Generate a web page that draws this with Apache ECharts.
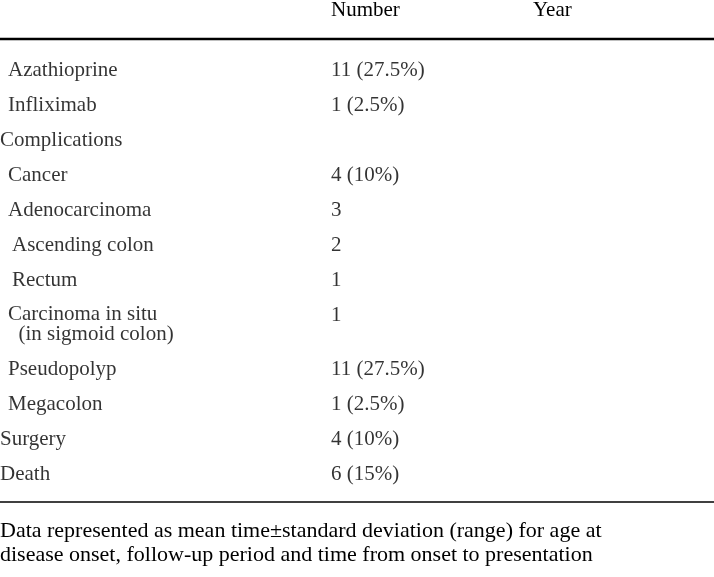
<!DOCTYPE html>
<html><head><meta charset="utf-8">
<script src="https://cdn.jsdelivr.net/npm/echarts@6/dist/echarts.min.js"></script>
<style>html,body{margin:0;padding:0;background:#fff}#main{width:714px;height:577px}</style>
</head><body><div id="main"></div>
<script>
// table content
const headers = ['Number', 'Year'];
const labels = ['Azathioprine', 'Infliximab', 'Complications', 'Cancer', 'Adenocarcinoma',
    'Ascending colon', 'Rectum', 'Carcinoma in situ\n  (in sigmoid colon)', 'Pseudopolyp',
    'Megacolon', 'Surgery', 'Death'];
const indents = [1, 1, 0, 1, 1, 2, 2, 1, 1, 1, 0, 0];
const numbers = ['11 (27.5%)', '1 (2.5%)', '', '4 (10%)', '3', '2', '1', '1',
    '11 (27.5%)', '1 (2.5%)', '4 (10%)', '6 (15%)'];
const rows = [0, 1, 2, 3, 4, 5, 6, 7.27, 8.57, 9.57, 10.57, 11.57];
const numRows = [0, 1, 2, 3, 4, 5, 6, 7, 8.57, 9.57, 10.57, 11.57];
const footnote = ['Data represented as mean time\u00b1standard deviation (range) for age at',
    'disease onset, follow-up period and time from onset to presentation'];

const font = '"Liberation Serif", "DejaVu Serif", serif';
const indentPx = [0, 8, 12];
const numX = 331;

let myChart = echarts.init(document.getElementById('main'));
let labelData = labels.map((t, i) => ({value: [indentPx[indents[i]], rows[i]], name: t}));
let numData = numbers.map((t, i) => ({value: [numX, numRows[i]], name: t}));
let txt = {show: true, position: 'right', distance: 0, color: '#000', fontFamily: font,
    fontSize: 21, lineHeight: 20, formatter: p => p.name};

let option = {
    animation: false,
    grid: {left: 0, right: 0, top: 0, bottom: 0},
    xAxis: {type: 'value', min: 0, max: 714, show: false},
    yAxis: {type: 'value', min: -2, max: 577 / 35 - 2, inverse: true, show: false},
    series: [
        {type: 'scatter', symbolSize: 0, data: labelData, label: txt},
        {type: 'scatter', symbolSize: 0, data: numData, label: txt}
    ],
    graphic: [
        {type: 'text', left: 331, top: 0, style: {text: headers[0], font: '21px ' + font, fill: '#000'}},
        {type: 'text', left: 533, top: 0, style: {text: headers[1], font: '21px ' + font, fill: '#000'}},
        {type: 'line', shape: {x1: 0, y1: 39, x2: 714, y2: 39}, style: {stroke: '#000', lineWidth: 2.5}},
        {type: 'line', shape: {x1: 0, y1: 502, x2: 714, y2: 502}, style: {stroke: '#000', lineWidth: 1.5}},
        {type: 'text', left: 0, top: 520, style: {text: footnote[0], font: '22px ' + font, fill: '#000'}},
        {type: 'text', left: 0, top: 544, style: {text: footnote[1], font: '22px ' + font, fill: '#000'}}
    ]
};
myChart.setOption(option);
</script></body></html>
